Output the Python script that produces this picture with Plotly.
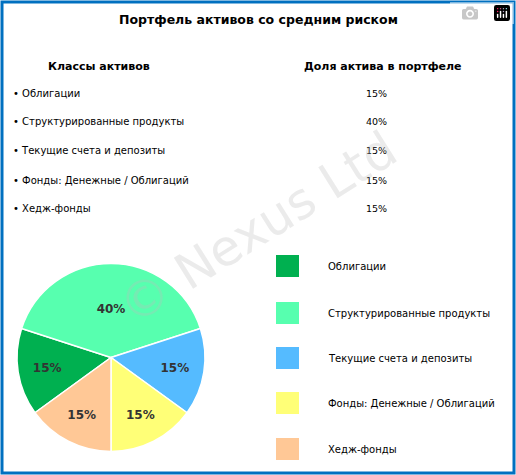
import plotly.graph_objects as go

W, H = 516, 475

classes = ['Облигации', 'Структурированные продукты', 'Текущие счета и депозиты',
           'Фонды: Денежные / Облигаций', 'Хедж-фонды']
shares = [15, 40, 15, 15, 15]
colors = ['#00B050', '#57FFAF', '#55BBFF', '#FFFF77', '#FFC896']

def px_x(x):
    return x / W

def px_y(y):
    return 1 - y / H

fig = go.Figure()
fig.add_trace(go.Pie(
    labels=classes, values=shares, sort=False, direction='clockwise', rotation=234,
    marker=dict(colors=colors, line=dict(color='white', width=1.5)),
    text=[f'{v}%' for v in shares], textinfo='text', textposition='inside',
    insidetextorientation='horizontal',
    textfont=dict(family='DejaVu Sans', size=12, color='#333333', weight='bold'),
    domain=dict(x=[px_x(17), px_x(205)], y=[px_y(452), px_y(263)]),
    showlegend=False, hoverinfo='label+percent'
))

ann = []
shapes = []

def label(x, y, text, size=10.5, anchor='center', color='black', **kw):
    ann.append(dict(x=px_x(x), y=px_y(y), xanchor=anchor, yanchor='middle', text=text,
                    font=dict(family='DejaVu Sans', size=size, color=color),
                    showarrow=False, **kw))

label(258, 19, '<b>Портфель активов со средним риском</b>', size=12.5)
label(99, 67, '<b>Классы активов</b>', size=11)
label(383, 67, '<b>Доля актива в портфеле</b>', size=11)

row_y = [93, 121, 151, 180, 208]
for name, v, y in zip(classes, shares, row_y):
    label(11, y, '• ' + name, size=10, anchor='left')
    label(376, y, f'{v}%', size=9.5)

leg_y = [266, 313, 358, 403, 449]
for name, c, y in zip(classes, colors, leg_y):
    shapes.append(dict(type='rect', xref='paper', yref='paper', x0=px_x(276), x1=px_x(299),
                       y0=px_y(y + 11), y1=px_y(y - 11), fillcolor=c, line=dict(width=0)))
    label(326, y, name, size=10, anchor='left')

# watermark
label(258, 228, '© Nexus Ltd', size=50, color='rgba(190,190,190,0.3)', textangle=-32)

# border
shapes.append(dict(type='rect', xref='paper', yref='paper', x0=px_x(2), x1=px_x(W - 2),
                   y0=px_y(H - 2), y1=px_y(2), line=dict(color='#0070C0', width=3)))

fig.update_layout(
    width=W, height=H, margin=dict(l=0, r=0, t=0, b=0),
    paper_bgcolor='white', plot_bgcolor='white',
    annotations=ann, shapes=shapes
)
fig.write_html("out.html", post_script="document.body.style.margin='0';")
